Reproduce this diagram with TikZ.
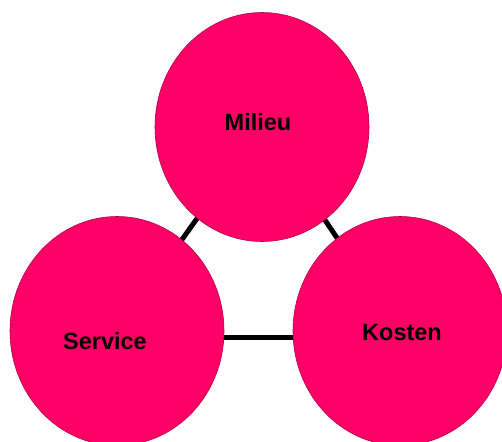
\documentclass[tikz,border=0pt]{standalone}
\usepackage{fontspec}
\setmainfont{Liberation Sans}
\usetikzlibrary{shapes.geometric,backgrounds}
\definecolor{pinkfill}{HTML}{FF0066}
\definecolor{pinkedge}{HTML}{B3004F}
\begin{document}
\begin{tikzpicture}[x=1pt,y=-1pt,
  blob/.style={ellipse,draw=pinkedge,line width=0.6pt,fill=pinkfill,minimum width=214pt,minimum height=229pt,inner sep=0pt},
  lbl/.style={font=\bfseries\fontsize{23.5}{26}\selectfont,text=black},
  link/.style={draw=black,line width=5pt}]
\useasboundingbox (0,0) rectangle (502,441);
\node[blob] (m) at (262,127) {};
\node[blob] (s) at (117,331) {};
\node[blob] (k) at (400,331) {};
\node[lbl] (mt) at (258,122) {Milieu};
\node[lbl] (st) at (105,341) {Service};
\node[lbl] (kt) at (402,333) {Kosten};
\begin{scope}[on background layer]
\draw[link] (m.center) -- (s.center);
\draw[link] (m.center) -- (k.center);
\draw[link] ([yshift=-6pt]s.center) -- ([yshift=-6pt]k.center);
\end{scope}
\end{tikzpicture}
\end{document}
